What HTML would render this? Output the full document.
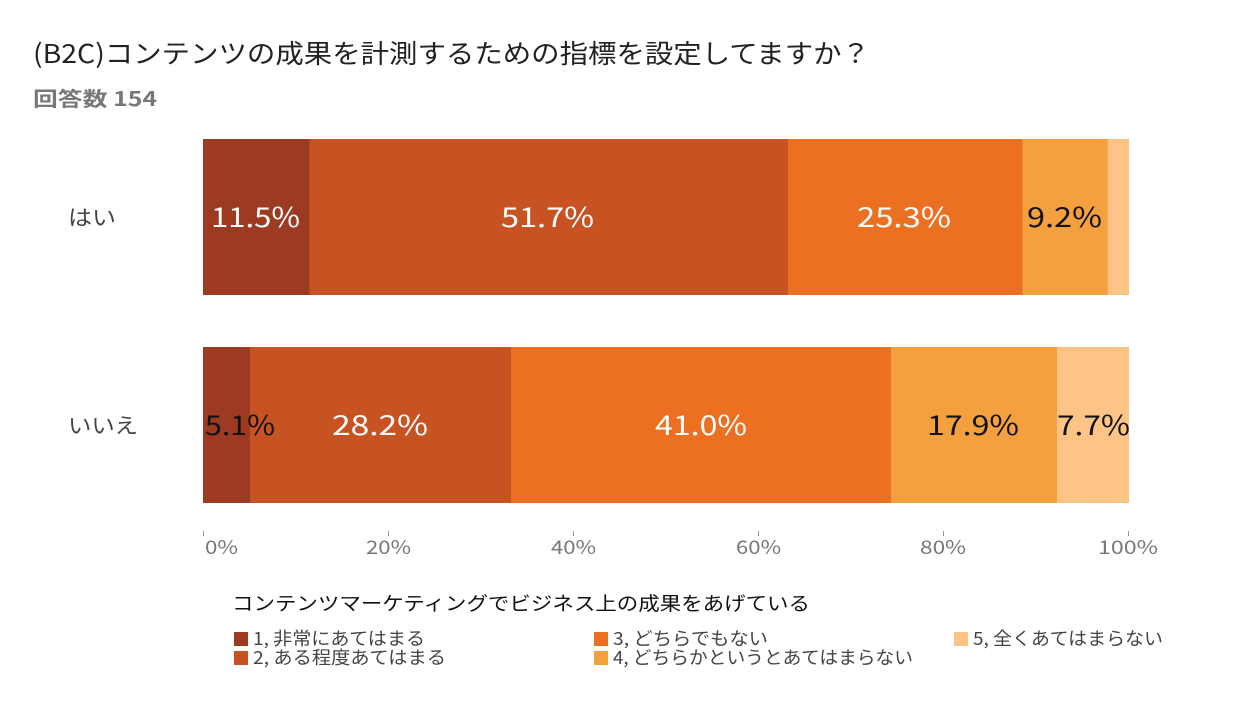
<!DOCTYPE html>
<html><head><meta charset="utf-8"><style>
body{margin:0;background:#fff;width:1258px;height:700px;overflow:hidden}
text{font-family:"Noto Sans CJK JP","Liberation Sans",sans-serif}
</style></head><body>
<svg width="1258" height="700" xmlns="http://www.w3.org/2000/svg">
<text x="33" y="63" font-size="26" fill="#222" textLength="837" lengthAdjust="spacingAndGlyphs">(B2C)コンテンツの成果を計測するための指標を設定してますか？</text>
<text x="33" y="106" font-size="20" font-weight="bold" fill="#777" textLength="124" lengthAdjust="spacingAndGlyphs">回答数 154</text>
<g>
<rect x="203" y="139" width="107" height="156" fill="#9c3a22"/>
<rect x="309.5" y="139" width="479" height="156" fill="#c65321"/>
<rect x="788" y="139" width="235" height="156" fill="#ec7022"/>
<rect x="1022.5" y="139" width="85.5" height="156" fill="#f4a03e"/>
<rect x="1107.7" y="139" width="21.3" height="156" fill="#fdc486"/>
<rect x="203" y="347" width="47.5" height="156" fill="#9c3a22"/>
<rect x="250" y="347" width="261.5" height="156" fill="#c65321"/>
<rect x="511" y="347" width="380.5" height="156" fill="#ec7022"/>
<rect x="891" y="347" width="166.5" height="156" fill="#f4a03e"/>
<rect x="1057" y="347" width="72" height="156" fill="#fdc486"/>
</g>
<g font-size="27" lengthAdjust="spacingAndGlyphs">
<text x="211" y="227" fill="#fff" textLength="89" lengthAdjust="spacingAndGlyphs">11.5%</text>
<text x="501" y="227" fill="#fff" textLength="93" lengthAdjust="spacingAndGlyphs">51.7%</text>
<text x="857" y="227" fill="#fff" textLength="94" lengthAdjust="spacingAndGlyphs">25.3%</text>
<text x="1027" y="227" fill="#111" textLength="75" lengthAdjust="spacingAndGlyphs">9.2%</text>
<text x="205" y="435" fill="#111" textLength="70" lengthAdjust="spacingAndGlyphs">5.1%</text>
<text x="332" y="435" fill="#fff" textLength="96" lengthAdjust="spacingAndGlyphs">28.2%</text>
<text x="655" y="435" fill="#fff" textLength="92" lengthAdjust="spacingAndGlyphs">41.0%</text>
<text x="927" y="435" fill="#111" textLength="92" lengthAdjust="spacingAndGlyphs">17.9%</text>
<text x="1057" y="435" fill="#111" textLength="73" lengthAdjust="spacingAndGlyphs">7.7%</text>
</g>
<g font-size="21" fill="#444">
<text x="68" y="225" textLength="48" lengthAdjust="spacingAndGlyphs">はい</text>
<text x="68" y="433" textLength="70" lengthAdjust="spacingAndGlyphs">いいえ</text>
</g>
<g stroke="#999" stroke-width="1">
<line x1="203.5" y1="531" x2="203.5" y2="536"/>
<line x1="388.5" y1="531" x2="388.5" y2="536"/>
<line x1="573.5" y1="531" x2="573.5" y2="536"/>
<line x1="758.5" y1="531" x2="758.5" y2="536"/>
<line x1="943.5" y1="531" x2="943.5" y2="536"/>
<line x1="1128.5" y1="531" x2="1128.5" y2="536"/>
</g>
<g font-size="19" fill="#777">
<text x="205" y="554" textLength="33" lengthAdjust="spacingAndGlyphs">0%</text>
<text x="366" y="554" textLength="45" lengthAdjust="spacingAndGlyphs">20%</text>
<text x="551" y="554" textLength="45" lengthAdjust="spacingAndGlyphs">40%</text>
<text x="736" y="554" textLength="45" lengthAdjust="spacingAndGlyphs">60%</text>
<text x="920" y="554" textLength="46" lengthAdjust="spacingAndGlyphs">80%</text>
<text x="1098" y="554" textLength="60" lengthAdjust="spacingAndGlyphs">100%</text>
</g>
<text x="232" y="610" font-size="19" fill="#111" textLength="578" lengthAdjust="spacingAndGlyphs">コンテンツマーケティングでビジネス上の成果をあげている</text>
<g font-size="18" fill="#444">
<rect x="234" y="632" width="14" height="14" fill="#9c3a22"/><text x="253" y="645" textLength="172" lengthAdjust="spacingAndGlyphs">1, 非常にあてはまる</text>
<rect x="234" y="651" width="14" height="14" fill="#c65321"/><text x="253" y="664" textLength="193" lengthAdjust="spacingAndGlyphs">2, ある程度あてはまる</text>
<rect x="594" y="632" width="14" height="14" fill="#ec7022"/><text x="613" y="645" textLength="155" lengthAdjust="spacingAndGlyphs">3, どちらでもない</text>
<rect x="594" y="651" width="14" height="14" fill="#f4a03e"/><text x="613" y="664" textLength="300" lengthAdjust="spacingAndGlyphs">4, どちらかというとあてはまらない</text>
<rect x="954" y="632" width="14" height="14" fill="#fdc486"/><text x="973" y="645" textLength="190" lengthAdjust="spacingAndGlyphs">5, 全くあてはまらない</text>
</g>
</svg>
</body></html>
